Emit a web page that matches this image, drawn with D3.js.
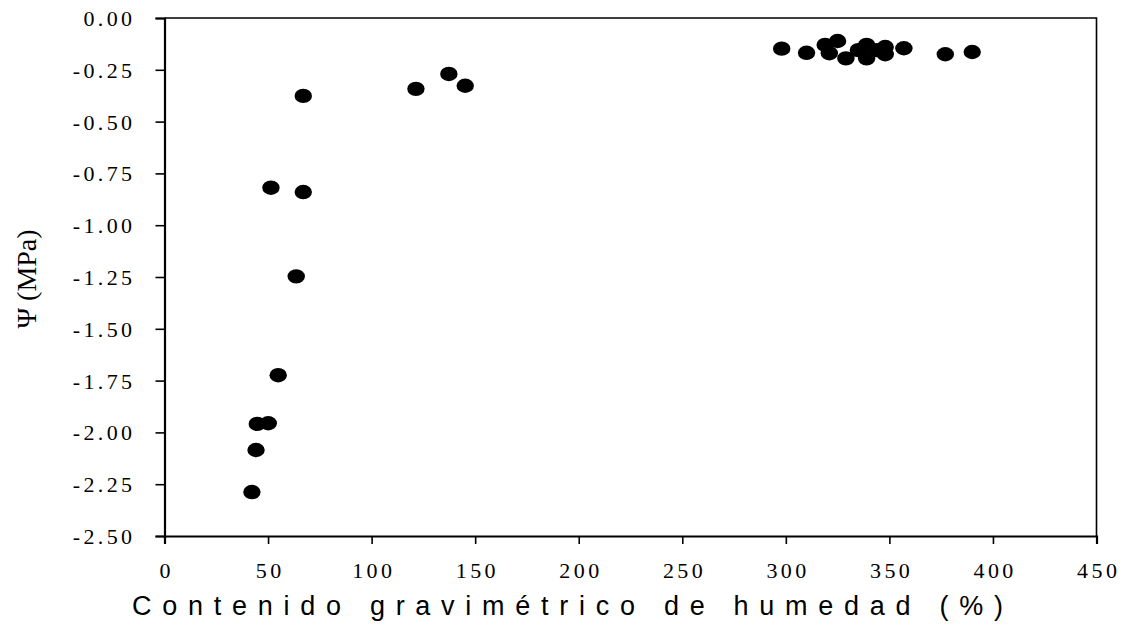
<!DOCTYPE html>
<html>
<head>
<meta charset="utf-8">
<script src="https://cdn.jsdelivr.net/npm/d3@7"></script>
<style>
  html, body { margin: 0; padding: 0; background: #fff; }
  svg { display: block; }
</style>
</head>
<body>
<svg id="chart" width="1122" height="634"></svg>
<script>
// Data (moisture content %, water potential MPa)
const moisture = [42.2, 44.2, 44.8, 50.1, 54.9, 63.6, 51.4, 67.0, 67.0, 121.4, 137.3, 145.2,
  298, 310, 319, 325, 321, 329, 335, 339, 339, 344, 348, 348, 357, 377, 390];
const potential = [-2.288, -2.085, -1.959, -1.956, -1.724, -1.247, -0.819, -0.840, -0.376, -0.342, -0.270, -0.327,
  -0.148, -0.168, -0.130, -0.111, -0.170, -0.195, -0.155, -0.130, -0.195, -0.155, -0.140, -0.175, -0.146, -0.175, -0.164];
const xTicks = [0, 50, 100, 150, 200, 250, 300, 350, 400, 450];
const yTicks = [0, -0.25, -0.5, -0.75, -1.0, -1.25, -1.5, -1.75, -2.0, -2.25, -2.5];
const xTitle = "Contenido gravimétrico de humedad (%)";
const yTitle = "Ψ (MPa)";

const svg = d3.select("#chart");
const m = { left: 164.5, top: 18, right: 1096.5, bottom: 536 };

const x = d3.scaleLinear().domain([0, 450]).range([m.left, m.right]);
const y = d3.scaleLinear().domain([-2.5, 0]).range([m.bottom, m.top]);

const serif = "'Liberation Serif', 'Times New Roman', serif";

// Frame (top and right)
svg.append("path")
  .attr("d", `M${m.left},${m.top}H${m.right}V${m.bottom}`)
  .attr("fill", "none").attr("stroke", "#000").attr("stroke-width", 1.6);

// Y axis
const yAxis = svg.append("g")
  .attr("transform", `translate(${m.left},0)`)
  .call(d3.axisLeft(y).tickValues(yTicks).tickSize(9).tickPadding(20)
    .tickFormat(d => d3.format(".2f")(d).replace("−", "-")));
yAxis.attr("font-family", serif).attr("font-size", 22);
yAxis.select(".domain").attr("stroke-width", 2.2);
yAxis.selectAll(".tick line").attr("stroke-width", 1.6);
yAxis.selectAll("text")
  .style("font-family", serif).style("font-size", "22px")
  .attr("letter-spacing", "3.4px").attr("dy", "0.34em").attr("fill", "#000");

// X axis
const xAxis = svg.append("g")
  .attr("transform", `translate(0,${m.bottom})`)
  .call(d3.axisBottom(x).tickValues(xTicks).tickSize(8).tickPadding(18));
xAxis.attr("font-family", serif).attr("font-size", 22);
xAxis.select(".domain").attr("stroke-width", 2.2);
xAxis.selectAll(".tick line").attr("stroke-width", 1.6);
xAxis.selectAll("text")
  .style("font-family", serif).style("font-size", "22px")
  .attr("letter-spacing", "3.4px").attr("dx", "1.7px").attr("fill", "#000");

// Points
svg.append("g").selectAll("ellipse")
  .data(moisture.map((v, i) => [v, potential[i]]))
  .join("ellipse")
  .attr("cx", d => x(d[0]))
  .attr("cy", d => y(d[1]))
  .attr("rx", 8.7).attr("ry", 7.2)
  .attr("fill", "#000");

// Axis titles
svg.append("text")
  .attr("x", 567.5).attr("y", 615)
  .attr("text-anchor", "middle")
  .attr("textLength", 871).attr("lengthAdjust", "spacing")
  .style("font-family", "'Liberation Sans', Arial, sans-serif")
  .style("font-size", "27px")
  .attr("fill", "#000")
  .text(xTitle);

svg.append("text")
  .attr("transform", "translate(36,279) rotate(-90)")
  .attr("text-anchor", "middle")
  .style("font-family", serif)
  .style("font-size", "28px")
  .attr("fill", "#000")
  .text(yTitle);
</script>
</body>
</html>
